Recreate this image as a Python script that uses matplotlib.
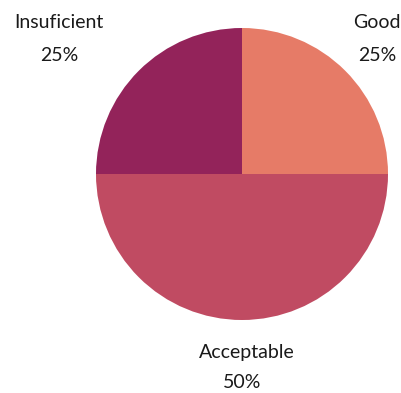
import numpy as np
import matplotlib.pyplot as plt

labels = ["Good", "Acceptable", "Insuficient"]
values = [25, 50, 25]
colors = ["#E67B67", "#C04B62", "#93235A"]

# label offsets (in pie radii) for name and percentage lines
name_pos = [(0.925, 1.035), (0.035, -1.225), (-1.255, 1.035)]
pct_pos = [(0.925, 0.815), (0.0, -1.43), (-1.255, 0.815)]

plt.rcParams['font.family'] = ['Lato', 'DejaVu Sans']

fig = plt.figure(figsize=(4.01, 3.93), dpi=100)
ax = fig.add_axes([0, 0, 1, 1])
ax.pie(values, colors=colors, startangle=90, counterclock=False, radius=1,
       wedgeprops=dict(linewidth=0))

total = sum(values)
for lab, v, (nx, ny), (px, py) in zip(labels, values, name_pos, pct_pos):
    ax.text(nx, ny, lab, ha='center', va='center', fontsize=14, color='#1a1a1a')
    ax.text(px, py, f"{round(100 * v / total)}%", ha='center', va='center',
            fontsize=14, color='#1a1a1a')

ax.set_xlim(-242 / 146, (401 - 242) / 146)
ax.set_ylim(-(393 - 174) / 146, 174 / 146)
ax.set_aspect('auto')
ax.axis('off')

fig.savefig('out.png', dpi=100)
